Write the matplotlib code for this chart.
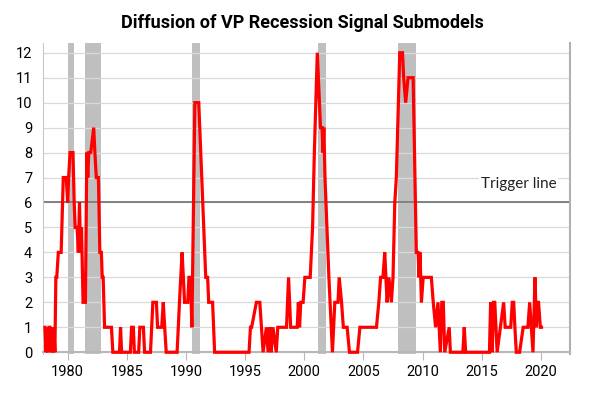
import numpy as np
import matplotlib.pyplot as plt

# diffusion index (number of submodels signalling)
years = [1978.08, 1978.17, 1978.25, 1978.33, 1978.42, 1978.5, 1978.58, 1978.67, 1978.75, 1978.83,
         1978.92, 1979.0, 1979.08, 1979.21, 1979.45, 1979.63, 1979.88, 1980.0, 1980.08, 1980.2,
         1980.45, 1980.55, 1980.63, 1980.8, 1980.9, 1981.0, 1981.08, 1981.17, 1981.3, 1981.5,
         1981.62, 1981.7, 1981.78, 1981.95, 1982.2, 1982.3, 1982.42, 1982.6, 1982.72, 1982.85,
         1982.92, 1983.0, 1983.12, 1983.7, 1983.82, 1984.38, 1984.47, 1984.56, 1985.3, 1985.4,
         1985.55, 1985.64, 1986.0, 1986.1, 1986.4, 1986.5, 1987.0, 1987.1, 1987.2, 1987.5,
         1987.6, 1987.95, 1988.08, 1988.2, 1988.33, 1989.25, 1989.35, 1989.45, 1989.67, 1989.78,
         1989.88, 1990.15, 1990.25, 1990.38, 1990.5, 1990.75, 1991.08, 1991.42, 1991.5, 1991.67,
         1991.83, 1991.92, 1992.25, 1992.42, 1995.33, 1995.45, 1995.55, 1995.95, 1996.24, 1996.38,
         1996.52, 1996.8, 1996.94, 1997.08, 1997.2, 1997.35, 1997.63, 1997.76, 1998.5, 1998.67,
         1998.85, 1999.4, 1999.5, 1999.6, 1999.7, 1999.9, 2000.05, 2000.5, 2000.6, 2000.7,
         2000.85, 2001.1, 2001.37, 2001.5, 2001.58, 2001.65, 2001.75, 2002.0, 2002.08, 2002.38,
         2002.58, 2002.85, 2002.95, 2003.15, 2003.3, 2003.62, 2003.82, 2004.5, 2004.7, 2006.1,
         2006.3, 2006.45, 2006.65, 2006.8, 2007.0, 2007.15, 2007.36, 2007.5, 2007.65, 2007.78,
         2008.07, 2008.3, 2008.4, 2008.57, 2008.77, 2009.2, 2009.47, 2009.62, 2009.7, 2009.78,
         2009.9, 2010.05, 2010.26, 2010.74, 2010.9, 2011.1, 2011.3, 2011.5, 2011.62, 2011.75,
         2011.87, 2012.25, 2012.35, 2013.4, 2013.52, 2013.64, 2015.65, 2015.75, 2015.88, 2016.0,
         2016.1, 2016.3, 2016.85, 2016.98, 2017.1, 2017.45, 2017.58, 2017.7, 2017.8, 2017.92,
         2018.2, 2018.5, 2018.9, 2019.05, 2019.33, 2019.5, 2019.62, 2019.72, 2019.8, 2019.95,
         2020.05]
signal = [1, 0, 1, 0, 1, 1, 0, 1, 0, 1,
          0, 3, 3, 4, 4, 7, 7, 6, 7, 8,
          8, 6, 5, 5, 4, 6, 4, 5, 2, 2,
          8, 7, 8, 8, 9, 8, 7, 7, 4, 4,
          3, 3, 1, 1, 0, 0, 1, 0, 0, 1,
          1, 0, 0, 1, 1, 0, 0, 1, 2, 2,
          1, 1, 2, 1, 0, 0, 1, 2, 4, 3,
          2, 2, 3, 3, 1, 10, 10, 6, 5, 3,
          3, 2, 2, 0, 0, 1, 1, 2, 2, 1,
          0, 1, 0, 1, 0, 1, 0, 1, 1, 3,
          1, 1, 2, 1, 2, 2, 3, 3, 4, 5,
          8, 12, 9, 9, 8, 9, 7, 4, 3, 0,
          2, 2, 3, 2, 1, 1, 0, 0, 1, 1,
          2, 3, 3, 4, 2, 3, 2, 3, 6, 7,
          12, 12, 11, 10, 11, 11, 4, 4, 3, 4,
          2, 3, 3, 3, 2, 1, 2, 0, 2, 2,
          0, 1, 0, 0, 1, 0, 0, 2, 0, 2,
          2, 0, 2, 1, 1, 1, 2, 2, 1, 0,
          0, 1, 1, 2, 0, 3, 1, 2, 2, 1,
          1]

# NBER recessions
rec_start = [1980.0, 1981.5, 1990.5, 2001.17, 2007.92]
rec_end = [1980.5, 1982.83, 1991.17, 2001.83, 2009.42]

trigger = 6
x_ticks = [1980, 1985, 1990, 1995, 2000, 2005, 2010, 2015, 2020]

plt.rcParams['font.family'] = ['Roboto', 'DejaVu Sans']

fig = plt.figure(figsize=(5.98, 3.95), dpi=100)
ax = fig.add_axes([0.0724, 0.1038, 0.8806, 0.788])

for s, e in zip(rec_start, rec_end):
    ax.axvspan(s, e, color='#bfbfbf', lw=0, zorder=1)

ax.set_yticks(range(0, 13))
ax.grid(axis='y', color='#d9d9d9', lw=0.9, zorder=0)
ax.axhline(trigger, color='#808080', lw=1.4, zorder=2)
ax.plot(years, signal, color='#ff0000', lw=2.3, zorder=3, solid_joinstyle='miter')

ax.text(2018.1, trigger + 0.75, 'Trigger line', ha='center', va='center',
        fontsize=11, family=['Lato', 'DejaVu Sans'], color='#222222', zorder=4,
        bbox=dict(facecolor='white', edgecolor='none', pad=1))

ax.set_xlim(1977.94, 2022.45)
ax.set_ylim(-0.07, 12.4)
ax.set_xticks(x_ticks)

ax.spines['top'].set_visible(False)
ax.spines['left'].set_color('#c8c8c8')
ax.spines['right'].set_color('#b0b0b0')
ax.spines['right'].set_linewidth(1.5)
ax.spines['bottom'].set_color('#b8b8b8')
ax.spines['bottom'].set_linewidth(1.5)
ax.spines['bottom'].set_position(('data', 0))
ax.tick_params(axis='x', length=6, color='#b8b8b8', labelsize=10.5, pad=3)
ax.tick_params(axis='y', length=0, labelsize=10.5, pad=8)

fig.suptitle('Diffusion of VP Recession Signal Submodels', x=0.505, y=0.942, va='center',
             fontsize=13, fontweight='bold')

fig.savefig('out.png', dpi=100)
